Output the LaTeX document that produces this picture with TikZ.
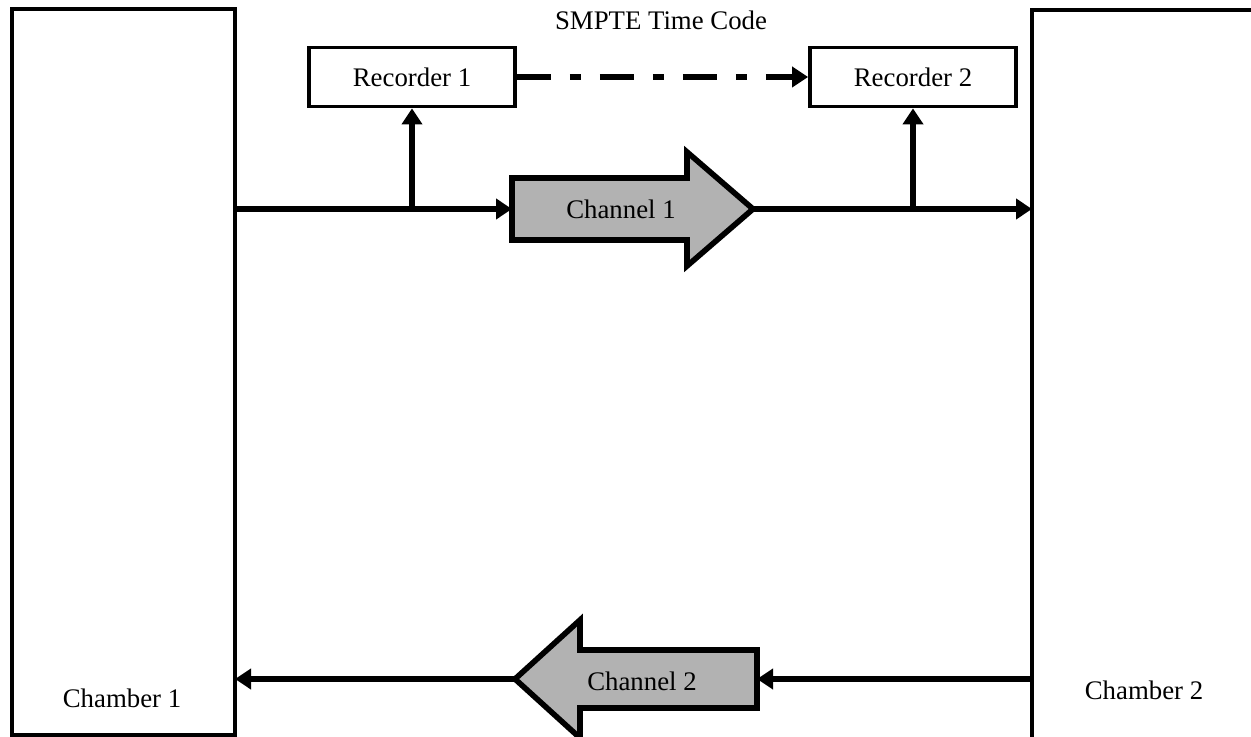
\documentclass[tikz,border=0pt]{standalone}
\usepackage{fontspec}
\setmainfont{Liberation Serif}
\usetikzlibrary{arrows.meta,calc}
\begin{document}
\begin{tikzpicture}[x=0.5pt,y=-0.5pt,
  font=\fontsize{13.4pt}{16pt}\selectfont,
  chamber/.style={draw,line width=1.6pt,outer sep=0pt,inner sep=0pt},
  recbox/.style={draw,line width=1.9pt,minimum width=103pt,minimum height=29.5pt,inner sep=0pt},
  sig/.style={line width=2.6pt,-{Triangle[length=8pt,width=10pt]}},
  timecode/.style={sig,dash pattern=on 17pt off 9.5pt on 5.5pt off 9.5pt},
  bigarrow/.style={draw,line width=2.8pt,fill=black!30,line join=miter},
  lbl/.style={inner sep=0pt}]
\useasboundingbox (0,0) rectangle (1251,737);
\clip (0,0) rectangle (1251,737);

% chambers (the second one runs off the right and bottom edges)
\node[chamber,minimum width=111.5pt,minimum height=363pt] (ch1) at (123.5,372) {};
\node[chamber,minimum width=150pt,minimum height=395pt] (ch2) at (1182,405) {};
\node[lbl] (ch1lbl) at (122,698) {Chamber 1};
\node[lbl] (ch2lbl) at (1144,690) {Chamber 2};

% recorders and the time code link
\node[recbox] (r1) at (412,77) {Recorder 1};
\node[recbox] (r2) at (913,77) {Recorder 2};
\node[lbl] (smpte) at (661,20) {SMPTE Time Code};
\draw[timecode] (r1.east) -- (r2.west);

% channel 1 (left to right)
\coordinate (c1w) at (512,209);
\coordinate (c1e) at (753,209);
\draw[bigarrow] (512,178) -- (687,178) -- (687,152) -- (c1e) -- (687,266)
  -- (687,240) -- (512,240) -- cycle;
\node[lbl] (c1lbl) at (621,209) {Channel 1};
\draw[sig] (ch1.east |- c1w) -- (c1w);
\draw[sig] (c1e) -- (ch2.west |- c1e);
\coordinate (j1) at (r1.south |- c1w);
\coordinate (j2) at (r2.south |- c1e);
\draw[sig] (j1) -- (r1.south);
\draw[sig] (j2) -- (r2.south);

% channel 2 (right to left)
\coordinate (c2w) at (515,679);
\coordinate (c2e) at (757,679);
\draw[bigarrow] (c2w) -- (580,620) -- (580,650) -- (757,650) -- (757,708)
  -- (580,708) -- (580,738) -- cycle;
\node[lbl] (c2lbl) at (642,681) {Channel 2};
\draw[sig] (ch2.west |- c2e) -- (c2e);
\draw[sig] (c2w) -- (ch1.east |- c2w);
\end{tikzpicture}
\end{document}
